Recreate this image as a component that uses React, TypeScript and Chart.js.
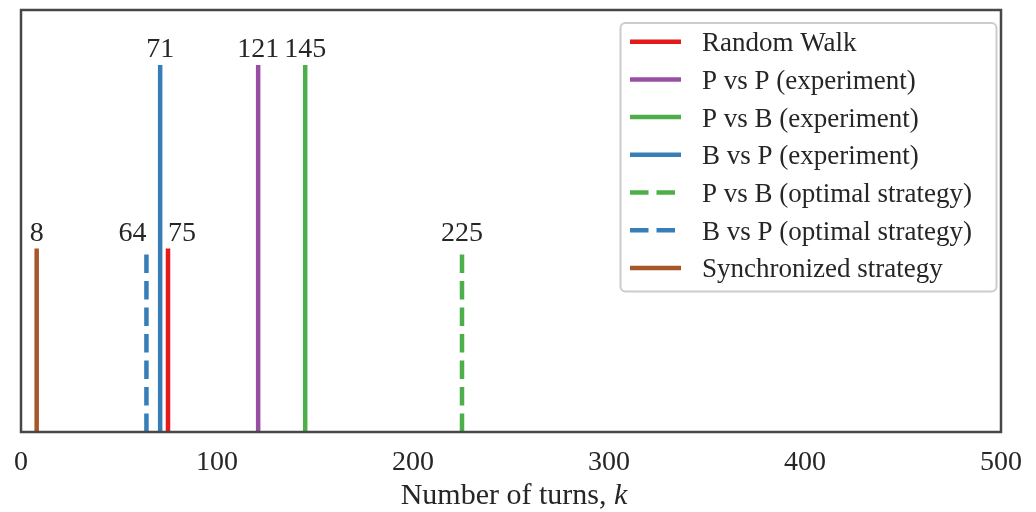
import React, { useEffect, useRef } from 'react';
import { Chart, registerables } from 'chart.js';

Chart.register(...registerables);

// ---- data ----
const seriesLabels = [
  'Random Walk',
  'P vs P (experiment)',
  'P vs B (experiment)',
  'B vs P (experiment)',
  'P vs B (optimal strategy)',
  'B vs P (optimal strategy)',
  'Synchronized strategy',
];
const turnValues = [75, 121, 145, 71, 225, 64, 8];
const lineHeights = [0.5, 1, 1, 1, 0.5, 0.5, 0.5];
const seriesColors = ['#e41a1c', '#984ea3', '#4daf4a', '#377eb8', '#4daf4a', '#377eb8', '#a65628'];
const seriesDashed = [false, false, false, false, true, true, false];
const labelAlign: CanvasTextAlign[] = ['left', 'center', 'center', 'center', 'center', 'right', 'center'];
const xTickValues = [0, 100, 200, 300, 400, 500];
const xAxisTitle = 'Number of turns, ';
const xAxisTitleItalic = 'k';
const X_MIN = 0;
const X_MAX = 500;
const Y_MAX = 1.15;

const FONT = "'Liberation Serif', 'DejaVu Serif', serif";
const TEXT_COLOR = '#262626';
const DASH = [18.5, 8];

const decorPlugin = {
  id: 'decor',
  afterDatasetsDraw(chart: any) {
    const ctx = chart.ctx as CanvasRenderingContext2D;
    const xs = chart.scales.x;
    const ys = chart.scales.y;
    ctx.save();
    ctx.font = `28px ${FONT}`;
    ctx.fillStyle = TEXT_COLOR;
    ctx.textBaseline = 'alphabetic';
    turnValues.forEach((v, i) => {
      const px = xs.getPixelForValue(v);
      const py = ys.getPixelForValue(lineHeights[i]);
      ctx.textAlign = labelAlign[i];
      ctx.fillText(String(v), px, py - 8);
    });
    ctx.restore();
  },
  afterDraw(chart: any) {
    const ctx = chart.ctx as CanvasRenderingContext2D;
    const a = chart.chartArea;
    ctx.save();
    // frame
    ctx.strokeStyle = '#474747';
    ctx.lineWidth = 2.5;
    ctx.setLineDash([]);
    ctx.strokeRect(a.left, a.top, a.right - a.left, a.bottom - a.top);

    // legend
    const lx = 620.5;
    const ly = 23;
    const lw = 376;
    const lh = 268.5;
    ctx.beginPath();
    (ctx as any).roundRect(lx, ly, lw, lh, 5);
    ctx.fillStyle = 'rgba(255,255,255,0.85)';
    ctx.fill();
    ctx.strokeStyle = '#cccccc';
    ctx.lineWidth = 2;
    ctx.stroke();

    const ds = chart.data.datasets;
    ctx.font = `27px ${FONT}`;
    ctx.textAlign = 'left';
    ctx.textBaseline = 'alphabetic';
    ds.forEach((d: any, i: number) => {
      const cy = 41.7 + i * 37.7;
      ctx.beginPath();
      ctx.strokeStyle = d.borderColor;
      ctx.lineWidth = 4.5;
      ctx.lineCap = 'butt';
      ctx.setLineDash(d.borderDash || []);
      ctx.moveTo(630, cy);
      ctx.lineTo(681, cy);
      ctx.stroke();
      ctx.setLineDash([]);
      ctx.fillStyle = TEXT_COLOR;
      ctx.fillText(d.label, 702, cy + 9.5);
    });

    // x axis title with italic k
    ctx.fillStyle = TEXT_COLOR;
    const normalFont = `30px ${FONT}`;
    const italicFont = `italic 30px ${FONT}`;
    ctx.font = normalFont;
    const w1 = ctx.measureText(xAxisTitle).width;
    ctx.font = italicFont;
    const w2 = ctx.measureText(xAxisTitleItalic).width;
    const cx = (a.left + a.right) / 2 + 3;
    const startX = cx - (w1 + w2) / 2;
    ctx.textAlign = 'left';
    ctx.font = normalFont;
    ctx.fillText(xAxisTitle, startX, 503.5);
    ctx.font = italicFont;
    ctx.fillText(xAxisTitleItalic, startX + w1, 503.5);
    ctx.restore();
  },
};

export default function App() {
  const canvasRef = useRef<HTMLCanvasElement | null>(null);

  useEffect(() => {
    if (!canvasRef.current) return;
    const datasets = seriesLabels.map((label, i) => ({
      label,
      data: [
        { x: turnValues[i], y: 0 },
        { x: turnValues[i], y: lineHeights[i] },
      ],
      borderColor: seriesColors[i],
      backgroundColor: seriesColors[i],
      borderWidth: 4.5,
      borderDash: seriesDashed[i] ? DASH : [],
      borderCapStyle: 'butt' as const,
      pointRadius: 0,
      fill: false,
      tension: 0,
    }));

    const chart = new Chart(canvasRef.current, {
      type: 'line',
      data: { datasets },
      options: {
        animation: false,
        responsive: true,
        maintainAspectRatio: false,
        layout: { padding: { left: 17, right: 26, top: 10, bottom: 0 } },
        plugins: {
          legend: { display: false },
          tooltip: { enabled: false },
          title: { display: false },
        },
        scales: {
          x: {
            type: 'linear',
            min: X_MIN,
            max: X_MAX,
            afterBuildTicks: (scale: any) => {
              scale.ticks = xTickValues.map((v) => ({ value: v }));
            },
            afterFit: (scale: any) => {
              scale.height = 80;
            },
            grid: { display: false, drawTicks: false },
            border: { display: false },
            ticks: {
              font: { family: FONT, size: 28 },
              color: TEXT_COLOR,
              padding: 14,
              maxRotation: 0,
              autoSkip: false,
            },
          },
          y: {
            type: 'linear',
            display: false,
            min: 0,
            max: Y_MAX,
          },
        },
      },
      plugins: [decorPlugin],
    });
    return () => chart.destroy();
  }, []);

  return (
    <div style={{ position: 'fixed', left: 0, top: 0, width: 1036, height: 512, background: '#ffffff' }}>
      <canvas ref={canvasRef} />
    </div>
  );
}
